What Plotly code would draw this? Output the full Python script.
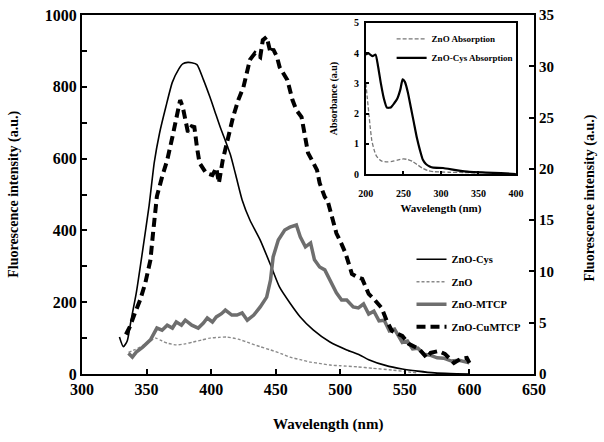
import plotly.graph_objects as go

# ---------------- main panel data ----------------
wl_cys = [329, 332, 335, 338, 342, 347, 352, 356, 360, 365, 370, 375, 378, 382, 385, 389, 394, 399, 403, 407, 411, 415, 419, 424,
          430, 438, 447, 453, 461, 469, 479, 492, 505, 515, 522, 535, 548, 560, 573, 585, 600]
fl_cys = [103, 76, 92, 150, 225, 345, 470, 590, 670, 745, 813, 850, 864, 868, 867, 862, 820, 772, 730, 688, 650, 610, 555, 485,
          429, 373, 295, 242, 198, 159, 123, 89, 67, 53, 40, 24, 14, 8, 3, 1, 0]

wl_zno = [336, 341, 345, 352, 357, 362, 366, 373, 380, 386, 393, 399, 406, 412, 421, 430, 438, 446, 454, 461, 469, 477, 485,
          492, 500, 513, 525, 540, 550, 560]
fl_zno = [60, 68, 75, 90, 100, 92, 86, 81, 84, 89, 95, 100, 102, 103, 97, 86, 76, 67, 57, 47, 40, 33, 29,
          25, 23, 20, 16, 11, 7, 3]

wl_mtcp = [336, 339, 342, 347, 353, 358, 362, 366, 370, 373, 377, 380, 385, 390, 394, 397, 401, 404, 408, 411, 416, 420,
           424, 428, 433, 438, 443, 446, 448, 452, 457, 461, 466, 469, 473, 477, 480, 484, 488, 492, 497, 501, 505, 510,
           514, 518, 522, 526, 530, 534, 538, 542, 548, 552, 556, 560, 565, 570, 575, 580, 586, 592, 600]
fl_mtcp = [58, 47, 61, 75, 95, 128, 122, 136, 128, 145, 136, 150, 136, 128, 142, 156, 145, 159, 168, 178, 164, 164,
           170, 150, 164, 187, 214, 262, 326, 373, 401, 409, 415, 382, 354, 365, 318, 298, 290, 262, 226, 206, 206, 187,
           184, 195, 167, 175, 148, 150, 120, 125, 88, 92, 70, 72, 55, 52, 45, 44, 36, 38, 31]

wl_cu = [334, 337, 341, 345, 349, 353, 355, 358, 362, 366, 370, 373, 376, 378, 380, 382, 385, 387, 389, 391, 396, 401, 404,
         406, 409, 412, 417, 421, 425, 430, 434, 438, 440, 443, 446, 448, 451, 453, 459, 463, 466, 470, 473, 475, 478,
         482, 484, 488, 490, 497, 500, 504, 509, 513, 517, 522, 526, 532, 536, 540, 548, 553, 561, 567, 570, 576, 581,
         588, 593, 598, 600]
fl_cu = [110, 131, 170, 206, 253, 318, 392, 495, 549, 596, 660, 716, 763, 744, 708, 674, 690, 688, 632, 588, 560, 554, 574,
         532, 596, 643, 716, 763, 799, 875, 894, 883, 930, 939, 894, 905, 883, 855, 819, 763, 735, 716, 660, 616, 596,
         568, 532, 493, 485, 392, 370, 337, 279, 270, 265, 223, 209, 184, 148, 120, 106, 84, 70, 45, 59, 64, 56,
         31, 42, 45, 31]

# ---------------- inset data ----------------
wl_abs_cys = [200, 203, 206, 209, 213, 216, 220, 224, 228, 233, 238, 242, 246, 249, 252, 256, 260, 264, 268, 272, 276, 280,
              285, 290, 303, 320, 338, 360, 380, 400]
ab_cys = [3.95, 4.0, 3.95, 3.9, 3.95, 3.6, 3.0, 2.5, 2.2, 2.2, 2.35, 2.5, 2.8, 3.13, 3.05, 2.7, 2.2, 1.7, 1.2, 0.8, 0.47, 0.33,
          0.25, 0.21, 0.2, 0.13, 0.07, 0.05, 0.03, 0.0]

wl_abs_zno = [200, 202, 204, 206, 208, 211, 214, 218, 222, 228, 235, 242, 250, 256, 262, 268, 275, 282, 290, 310, 330, 350]
ab_zno = [3.0, 2.5, 2.0, 1.5, 1.1, 0.8, 0.6, 0.48, 0.42, 0.4, 0.42, 0.46, 0.5, 0.48, 0.42, 0.32, 0.2, 0.12, 0.08, 0.06, 0.05, 0.04]

x_ticks = [300, 350, 400, 450, 500, 550, 600, 650]
y_ticks = [0, 200, 400, 600, 800, 1000]
y2_ticks = [0, 5, 10, 15, 20, 25, 30, 35]
inset_x_ticks = [200, 250, 300, 350, 400]
inset_y_ticks = [0, 1, 2, 3, 4, 5]

SERIF = "Liberation Serif"

fig = go.Figure()

fig.add_trace(go.Scatter(x=wl_cys, y=fl_cys, name="ZnO-Cys", mode="lines", legendgroup="a",
                         line=dict(color="black", width=1.6, shape="spline", smoothing=0.6), legend="legend"))
fig.add_trace(go.Scatter(x=wl_zno, y=fl_zno, name="ZnO", mode="lines", legendgroup="b",
                         line=dict(color="#8a8a8a", width=1.4, dash="3px,2px", shape="spline", smoothing=0.6), legend="legend"))
fig.add_trace(go.Scatter(x=wl_mtcp, y=fl_mtcp, name="ZnO-MTCP", mode="lines", legendgroup="c",
                         line=dict(color="#6e6e6e", width=3.5), legend="legend"))
fig.add_trace(go.Scatter(x=wl_cu, y=fl_cu, name="ZnO-CuMTCP", mode="lines", legendgroup="d",
                         line=dict(color="black", width=4, dash="9px,5px"), legend="legend"))
fig.add_trace(go.Scatter(x=[None], y=[None], yaxis="y2", showlegend=False, hoverinfo="skip"))

fig.add_trace(go.Scatter(x=wl_abs_zno, y=ab_zno, name="ZnO Absorption", mode="lines", xaxis="x3", yaxis="y3",
                         line=dict(color="#777777", width=1.3, dash="4px,2px", shape="spline", smoothing=0.5), legend="legend2"))
fig.add_trace(go.Scatter(x=wl_abs_cys, y=ab_cys, name="ZnO-Cys Absorption", mode="lines", xaxis="x3", yaxis="y3",
                         line=dict(color="black", width=2.2, shape="spline", smoothing=0.5), legend="legend2"))

axis_common = dict(showline=True, linecolor="black", ticks="inside", tickcolor="black", showgrid=False, zeroline=False,
                   automargin=False)

fig.update_layout(
    width=604, height=442,
    margin=dict(l=82, r=70, t=15, b=68),
    paper_bgcolor="white", plot_bgcolor="white",
    font=dict(family=SERIF, color="black"),
    xaxis=dict(range=[300, 650], tickvals=x_ticks, mirror=True, linewidth=2, ticklen=5, tickwidth=2,
               tickfont=dict(size=16, family=SERIF, weight="bold"), **axis_common),
    yaxis=dict(range=[0, 1000], tickvals=y_ticks, mirror=False, linewidth=2, ticklen=5, tickwidth=2,
               minor=dict(dtick=100, ticks="inside", ticklen=5, tickwidth=2, tickcolor="black"),
               tickfont=dict(size=16, family=SERIF, weight="bold"), **axis_common),
    yaxis2=dict(range=[0, 35], tickvals=y2_ticks, overlaying="y", side="right", linewidth=2, ticklen=5, tickwidth=2,
                tickfont=dict(size=15, family=SERIF, weight="bold"), **axis_common),
    xaxis3=dict(domain=[0.628, 0.960], anchor="y3", range=[200, 400], tickvals=inset_x_ticks, mirror=True, linewidth=1.5,
                ticklen=3, tickwidth=1.5, tickfont=dict(size=10, family=SERIF, weight="bold"), ticklabelstandoff=9,
                title=dict(text="Wavelength (nm)", font=dict(size=11, family=SERIF, weight="bold"), standoff=7), **axis_common),
    yaxis3=dict(domain=[0.557, 0.978], anchor="x3", range=[0, 5], tickvals=inset_y_ticks, mirror=True, linewidth=1.5,
                ticklen=3, tickwidth=1.5, tickfont=dict(size=10, family=SERIF, weight="bold"), ticklabelstandoff=3,
                title=dict(text="Absorbance (a.u)", font=dict(size=10, family=SERIF, weight="bold"), standoff=15), **axis_common),
    legend=dict(x=0.729, y=0.36, xanchor="left", yanchor="top", bgcolor="rgba(0,0,0,0)",
                font=dict(size=10.5, family=SERIF, weight="bold"), tracegroupgap=3.5, itemwidth=30),
    legend2=dict(x=0.685, y=0.974, xanchor="left", yanchor="top", bgcolor="rgba(0,0,0,0)",
                 font=dict(size=9, family=SERIF, weight="bold"), itemwidth=30),
    showlegend=True,
    annotations=[
        dict(text="Fluorescence intensity (a.u.)", xref="paper", yref="paper", x=-0.152, y=0.5, textangle=-90,
             showarrow=False, font=dict(size=14, family=SERIF, weight="bold"), xanchor="center", yanchor="middle"),
        dict(text="Fluorescence intensity (a.u.)", xref="paper", yref="paper", x=1.125, y=0.49, textangle=-90,
             showarrow=False, font=dict(size=14, family=SERIF, weight="bold"), xanchor="center", yanchor="middle"),
        dict(text="Wavelength (nm)", xref="paper", yref="paper", x=0.545, y=-0.14, showarrow=False,
             font=dict(size=15, family=SERIF, weight="bold"), xanchor="center", yanchor="middle"),
    ],
)

fig.write_html("out.html", config={"displayModeBar": False},
               post_script="document.body.style.margin='0';document.body.style.overflow='hidden';")
